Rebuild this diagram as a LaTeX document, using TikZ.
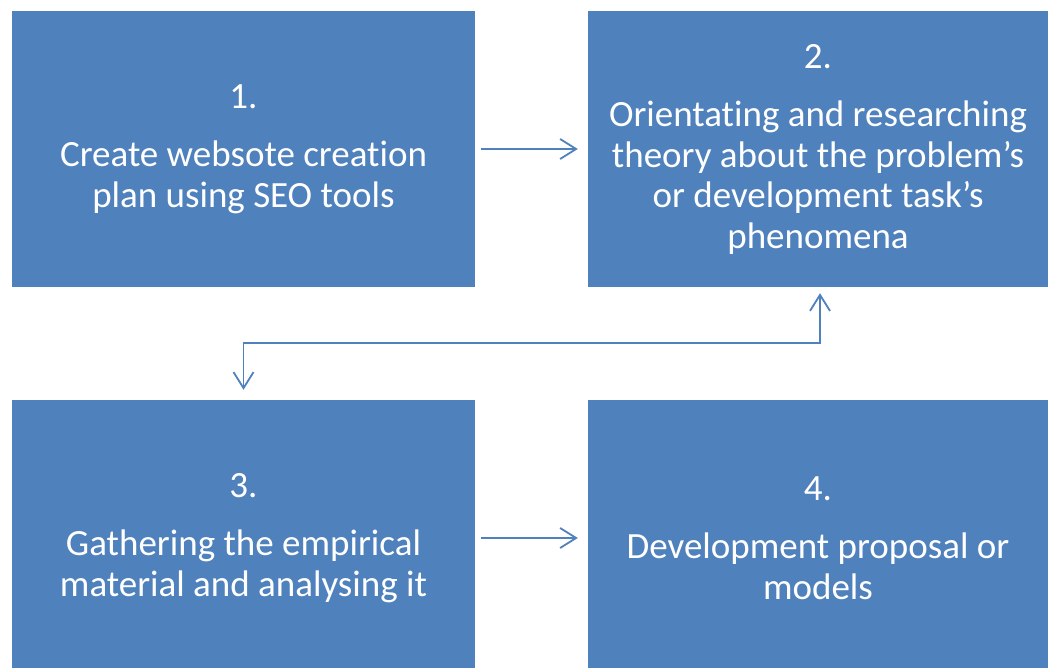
\documentclass[tikz,border=0pt]{standalone}
\usepackage{fontspec}
\setmainfont[Ligatures=NoCommon]{Carlito}
\usetikzlibrary{arrows.meta}
\definecolor{boxblue}{HTML}{4F81BD}
\begin{document}
\begin{tikzpicture}[x=1pt,y=-1pt,
	phase/.style={fill=boxblue,text=white,align=center,inner sep=0pt,font=\fontsize{37}{40.5}\selectfont},
	barb/.tip={Straight Barb[length=16pt,width=20pt]},
	flow/.style={draw=boxblue,line width=1.8pt}]
	\clip (0,0) rectangle (1048,668);
	\node[phase,minimum width=463pt,minimum height=276pt] at (243.5,149) (p1) {1.\\[18pt]Create websote creation\\plan using SEO tools};
	\node[phase,minimum width=460pt,minimum height=276pt] at (818,149) (p2) {2.\\[18pt]Orientating and researching\\theory about the problem’s\\or development task’s\\phenomena};
	\node[phase,minimum width=463pt,minimum height=276pt] at (243.5,538) (p3) {3.\\[18pt]Gathering the empirical\\material and analysing it};
	\node[phase,minimum width=460pt,minimum height=276pt] at (818,538) (p4) {4.\\[18pt]Development proposal or\\models};
	\draw[flow,-barb] ([xshift=6pt]p1.east) -- ([xshift=-10pt]p2.west);
	\draw[flow,barb-barb] ([xshift=2pt,yshift=-6pt]p2.south) -- ++(0,50) -| ([yshift=10pt]p3.north);
	\draw[flow,-barb] ([xshift=6pt]p3.east) -- ([xshift=-10pt]p4.west);
\end{tikzpicture}
\end{document}
